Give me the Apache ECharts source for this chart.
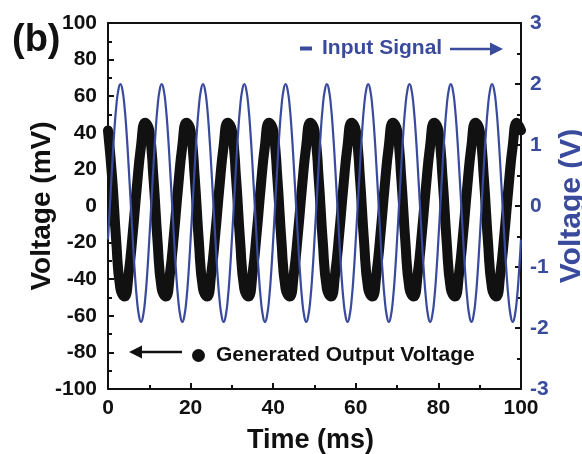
<!DOCTYPE html>
<html>
<head>
<meta charset="utf-8">
<script src="https://cdn.jsdelivr.net/npm/echarts@6/dist/echarts.min.js"></script>
<style>html,body{margin:0;padding:0;background:#fff;}#c{width:582px;height:454px;}</style>
</head>
<body>
<div id="c"></div>
<script>
// Time samples (ms)
var timeCoarse = [0,1,2,3,4,5,6,7,8,9,10,11,12,13,14,15,16,17,18,19,20,21,22,23,24,25,26,27,28,29,30,31,32,33,34,35,36,37,38,39,40,41,42,43,44,45,46,47,48,49,50,51,52,53,54,55,56,57,58,59,60,61,62,63,64,65,66,67,68,69,70,71,72,73,74,75,76,77,78,79,80,81,82,83,84,85,86,87,88,89,90,91,92,93,94,95,96,97,98,99,100];
var timeFine = [0,0.5,1,1.5,2,2.5,3,3.5,4,4.5,5,5.5,6,6.5,7,7.5,8,8.5,9,9.5,
10,10.5,11,11.5,12,12.5,13,13.5,14,14.5,15,15.5,16,16.5,17,17.5,18,18.5,19,19.5,
20,20.5,21,21.5,22,22.5,23,23.5,24,24.5,25,25.5,26,26.5,27,27.5,28,28.5,29,29.5,
30,30.5,31,31.5,32,32.5,33,33.5,34,34.5,35,35.5,36,36.5,37,37.5,38,38.5,39,39.5,
40,40.5,41,41.5,42,42.5,43,43.5,44,44.5,45,45.5,46,46.5,47,47.5,48,48.5,49,49.5,
50,50.5,51,51.5,52,52.5,53,53.5,54,54.5,55,55.5,56,56.5,57,57.5,58,58.5,59,59.5,
60,60.5,61,61.5,62,62.5,63,63.5,64,64.5,65,65.5,66,66.5,67,67.5,68,68.5,69,69.5,
70,70.5,71,71.5,72,72.5,73,73.5,74,74.5,75,75.5,76,76.5,77,77.5,78,78.5,79,79.5,
80,80.5,81,81.5,82,82.5,83,83.5,84,84.5,85,85.5,86,86.5,87,87.5,88,88.5,89,89.5,
90,90.5,91,91.5,92,92.5,93,93.5,94,94.5,95,95.5,96,96.5,97,97.5,98,98.5,99,99.5,100];

// Generated output voltage (mV), read at 1 ms steps
var outputMv = [
41.3,15.5,-19.5,-45.2,-49.5,-36.9,-14.8,10.8,32.9,45.5,
41.3,15.5,-19.5,-45.2,-49.5,-36.9,-14.8,10.8,32.9,45.5,
41.3,15.5,-19.5,-45.2,-49.5,-36.9,-14.8,10.8,32.9,45.5,
41.3,15.5,-19.5,-45.2,-49.5,-36.9,-14.8,10.8,32.9,45.5,
41.3,15.5,-19.5,-45.2,-49.5,-36.9,-14.8,10.8,32.9,45.5,
41.3,15.5,-19.5,-45.2,-49.5,-36.9,-14.8,10.8,32.9,45.5,
41.3,15.5,-19.5,-45.2,-49.5,-36.9,-14.8,10.8,32.9,45.5,
41.3,15.5,-19.5,-45.2,-49.5,-36.9,-14.8,10.8,32.9,45.5,
41.3,15.5,-19.5,-45.2,-49.5,-36.9,-14.8,10.8,32.9,45.5,
41.3,15.5,-19.5,-45.2,-49.5,-36.9,-14.8,10.8,32.9,45.5,
41.3];

// Input signal (V), read at 0.5 ms steps
var inputV = [
-0.55,0.05,0.65,1.20,1.63,1.90,2.00,1.90,1.63,1.20,0.65,0.05,-0.55,-1.10,-1.53,-1.80,-1.90,-1.80,-1.53,-1.10,
-0.55,0.05,0.65,1.20,1.63,1.90,2.00,1.90,1.63,1.20,0.65,0.05,-0.55,-1.10,-1.53,-1.80,-1.90,-1.80,-1.53,-1.10,
-0.55,0.05,0.65,1.20,1.63,1.90,2.00,1.90,1.63,1.20,0.65,0.05,-0.55,-1.10,-1.53,-1.80,-1.90,-1.80,-1.53,-1.10,
-0.55,0.05,0.65,1.20,1.63,1.90,2.00,1.90,1.63,1.20,0.65,0.05,-0.55,-1.10,-1.53,-1.80,-1.90,-1.80,-1.53,-1.10,
-0.55,0.05,0.65,1.20,1.63,1.90,2.00,1.90,1.63,1.20,0.65,0.05,-0.55,-1.10,-1.53,-1.80,-1.90,-1.80,-1.53,-1.10,
-0.55,0.05,0.65,1.20,1.63,1.90,2.00,1.90,1.63,1.20,0.65,0.05,-0.55,-1.10,-1.53,-1.80,-1.90,-1.80,-1.53,-1.10,
-0.55,0.05,0.65,1.20,1.63,1.90,2.00,1.90,1.63,1.20,0.65,0.05,-0.55,-1.10,-1.53,-1.80,-1.90,-1.80,-1.53,-1.10,
-0.55,0.05,0.65,1.20,1.63,1.90,2.00,1.90,1.63,1.20,0.65,0.05,-0.55,-1.10,-1.53,-1.80,-1.90,-1.80,-1.53,-1.10,
-0.55,0.05,0.65,1.20,1.63,1.90,2.00,1.90,1.63,1.20,0.65,0.05,-0.55,-1.10,-1.53,-1.80,-1.90,-1.80,-1.53,-1.10,
-0.55,0.05,0.65,1.20,1.63,1.90,2.00,1.90,1.63,1.20,0.65,0.05,-0.55,-1.10,-1.53,-1.80,-1.90,-1.80,-1.53,-1.10,
-0.55];

var seriesNames = ['Generated Output Voltage', 'Input Signal'];
var blue = '#3a4a9c';
var font = 'Liberation Sans, Arial, Helvetica, sans-serif';

var outData = timeCoarse.map(function (t, i) { return [t, outputMv[i]]; });
var inData = timeFine.map(function (t, i) { return [t, inputV[i]]; });

var chart = echarts.init(document.getElementById('c'), null, {renderer: 'canvas'});
chart.setOption({
  animation: false,
  backgroundColor: '#fff',
  textStyle: {fontFamily: font},
  grid: {left: 108, right: 61, top: 23, bottom: 65, containLabel: false, outerBoundsMode: 'none'},
  legend: [{
    data: [{name: seriesNames[0], icon: 'circle'}],
    left: 192, top: 345, padding: 0, itemWidth: 13, itemHeight: 13,
    selectedMode: false,
    textStyle: {color: '#111', fontWeight: 'bold', fontSize: 21, fontFamily: font, padding: [0, 0, 0, 6]}
  }, {
    data: [{name: seriesNames[1], icon: 'rect'}],
    left: 300, top: 38, padding: 0, itemWidth: 12, itemHeight: 4,
    selectedMode: false,
    textStyle: {color: blue, fontWeight: 'bold', fontSize: 21, fontFamily: font, padding: [0, 0, 0, 5]}
  }],
  xAxis: [{
    type: 'value', position: 'bottom', min: 0, max: 100, interval: 20,
    axisLine: {show: true, onZero: false, lineStyle: {color: '#111', width: 2}},
    axisTick: {show: true, inside: true, length: 6, lineStyle: {color: '#111', width: 2}},
    minorTick: {show: true, splitNumber: 2, length: 4, lineStyle: {color: '#111', width: 2}},
    splitLine: {show: false},
    axisLabel: {color: '#111', fontWeight: 'bold', fontSize: 21, margin: 9, fontFamily: font},
    name: 'Time (ms)', nameLocation: 'middle', nameGap: 38, nameMoveOverlap: false,
    nameTextStyle: {color: '#111', fontWeight: 'bold', fontSize: 27, fontFamily: font, padding: [0, 8, 0, 0]}
  }, {
    type: 'value', position: 'top', min: 0, max: 100,
    axisLine: {show: true, onZero: false, lineStyle: {color: '#111', width: 2}},
    axisTick: {show: false}, axisLabel: {show: false}, splitLine: {show: false}
  }],
  yAxis: [{
    type: 'value', position: 'left', min: -100, max: 100, interval: 20,
    axisLine: {show: true, onZero: false, lineStyle: {color: '#111', width: 2}},
    axisTick: {show: true, inside: true, length: 6, lineStyle: {color: '#111', width: 2}},
    minorTick: {show: true, splitNumber: 2, length: 4, lineStyle: {color: '#111', width: 2}},
    splitLine: {show: false},
    axisLabel: {color: '#111', fontWeight: 'bold', fontSize: 21, margin: 11, fontFamily: font},
    name: 'Voltage (mV)', nameLocation: 'middle', nameGap: 52, nameMoveOverlap: false,
    nameTextStyle: {color: '#111', fontWeight: 'bold', fontSize: 28, fontFamily: font}
  }, {
    type: 'value', position: 'right', min: -3, max: 3, interval: 1,
    axisLine: {show: true, onZero: false, lineStyle: {color: '#111', width: 2}},
    axisTick: {show: true, inside: true, length: 6, lineStyle: {color: '#111', width: 2}},
    minorTick: {show: true, splitNumber: 2, length: 4, lineStyle: {color: '#111', width: 2}},
    splitLine: {show: false},
    axisLabel: {color: blue, fontWeight: 'bold', fontSize: 21, margin: 9, fontFamily: font},
    name: 'Voltage (V)', nameLocation: 'middle', nameGap: 36, nameMoveOverlap: false,
    nameTextStyle: {color: blue, fontWeight: 'bold', fontSize: 30, fontFamily: font}
  }],
  series: [{
    name: seriesNames[0], type: 'line', xAxisIndex: 0, yAxisIndex: 0,
    data: outData, smooth: 0.5, showSymbol: false, symbol: 'circle',
    itemStyle: {color: '#111'},
    lineStyle: {color: '#111', width: 10, cap: 'round', join: 'round'},
    z: 2
  }, {
    name: seriesNames[1], type: 'line', xAxisIndex: 0, yAxisIndex: 1,
    data: inData, smooth: 0.5, showSymbol: false,
    itemStyle: {color: blue},
    lineStyle: {color: blue, width: 2.2},
    z: 3
  }],
  graphic: [
    {type: 'text', left: 12, top: 22, style: {text: '(b)', font: 'bold 38px ' + font, fill: '#111'}},
    {type: 'line', shape: {x1: 138, y1: 352, x2: 182, y2: 352}, style: {stroke: '#111', lineWidth: 2.5}},
    {type: 'polygon', shape: {points: [[129, 352], [142, 345.5], [142, 358.5]]}, style: {fill: '#111'}},
    {type: 'line', shape: {x1: 450, y1: 49, x2: 493, y2: 49}, style: {stroke: blue, lineWidth: 2.5}},
    {type: 'polygon', shape: {points: [[503, 49], [490, 42.5], [490, 55.5]]}, style: {fill: blue}}
  ]
});
</script>
</body>
</html>
